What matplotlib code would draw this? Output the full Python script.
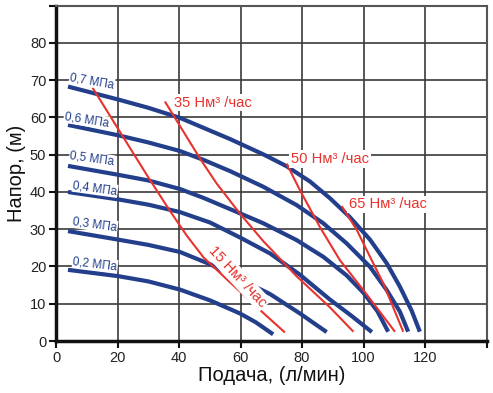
import matplotlib
matplotlib.use("Agg")
import matplotlib.pyplot as plt

plt.rcParams['font.family'] = ['Liberation Sans', 'DejaVu Sans']

# кривые давления (синие): подача (л/мин), напор (м)
p_labels = ["0,7 МПа", "0,6 МПа", "0,5 МПа", "0,4 МПа", "0,3 МПа", "0,2 МПа"]
p_q = [
    [3.9, 20.3, 30, 40.3, 48, 56.6, 67.4, 75, 82.6, 89.1, 95.6, 102.1, 107.5, 111.8, 115.6, 118.3],
    [3.9, 20.3, 30, 40.3, 48, 56.6, 67.4, 78.2, 86.9, 94.5, 102.1, 107.5, 111.8, 114.5],
    [3.9, 20.3, 30, 40.3, 48, 56.6, 67.4, 78.2, 86.9, 94.5, 99.9, 104.5, 108.0],
    [3.9, 20.3, 30, 40.3, 50.1, 59.8, 69.6, 79.3, 89.1, 96, 102.7],
    [3.9, 20.3, 30, 40.3, 50.1, 55.5, 69.6, 79.3, 88],
    [3.9, 20.3, 30, 40.3, 50.1, 59.8, 65, 70.6],
]
p_h = [
    [68.3, 64.8, 62.6, 59.9, 57.2, 54.2, 50.1, 46.9, 42.8, 38.3, 33.2, 27.2, 20.9, 14.6, 8.2, 2.5],
    [58.0, 55.2, 53.3, 51.0, 48.6, 45.6, 41.4, 36.5, 31.6, 26.2, 19.9, 13.7, 7.9, 2.5],
    [47.0, 44.6, 43.1, 40.8, 38.4, 35.4, 31.6, 27.1, 22.6, 17.6, 13.0, 8.0, 2.5],
    [40.0, 38.0, 36.6, 34.6, 31.8, 27.8, 23.5, 17.8, 11.1, 6.8, 2.4],
    [29.5, 27.2, 25.8, 23.9, 20.6, 18.3, 12.6, 7.4, 2.4],
    [19.1, 17.4, 16.0, 13.8, 10.9, 7.4, 5.0, 1.8],
]
# позиции подписей давления
p_lab_q = [11.7, 9.9, 11.7, 12.7, 12.7, 12.7]
p_lab_h = [69.8, 59.4, 48.9, 41.0, 31.3, 20.7]
p_lab_rot = [-10, -9, -8, -8, -8, -7]

# линии расхода воздуха (красные)
a_labels = ["15 Нм³ /час", "35 Нм³ /час", "50 Нм³ /час", "65 Нм³ /час"]
a_q = [
    [11.8, 20.3, 29.5, 36.5, 42.5, 48, 56, 65.3, 74.4],
    [35.4, 39.2, 46.8, 52.2, 59.8, 67.4, 78.2, 89.1, 96.7],
    [75, 79.3, 85.8, 92.3, 99.9, 110.2],
    [92.9, 97.8, 102.1, 106.4, 112.9],
]
a_h = [
    [68.1, 56.8, 44.6, 35.6, 28.3, 22.4, 16.2, 9.1, 2.3],
    [64.3, 59.2, 49.0, 42.3, 34.2, 26.8, 17.4, 9.0, 2.5],
    [47.6, 40.5, 30.6, 21.7, 13.7, 2.5],
    [36.2, 29.8, 22.6, 15.5, 2.5],
]
a_lab_q = [59.0, 51.0, 89.1, 107.9]
a_lab_h = [17.3, 64.0, 48.8, 36.7]
a_lab_rot = [-47, 0, 0, 0]

x_ticks = [0, 20, 40, 60, 80, 100, 120, 140]
y_ticks = [0, 10, 20, 30, 40, 50, 60, 70, 80, 90]

blue = '#233f8c'
red = '#e8322d'

fig = plt.figure(figsize=(4.93, 3.93), dpi=100)
ax = fig.add_axes([0.1136, 0.1323, 0.8734, 0.8532])

# сетка
for v in x_ticks[1:-1]:
    ax.axvline(v, color='#3a3a3a', lw=1.2, zorder=1)
for v in y_ticks[1:-1]:
    ax.axhline(v, color='#3a3a3a', lw=1.2, zorder=1)

for q, h in zip(p_q, p_h):
    ax.plot(q, h, color=blue, lw=3.0, solid_capstyle='butt',
            solid_joinstyle='round', zorder=3)
for q, h in zip(a_q, a_h):
    ax.plot(q, h, color=red, lw=1.5, solid_capstyle='butt',
            solid_joinstyle='round', zorder=4)

for t, x, y, r in zip(p_labels, p_lab_q, p_lab_h, p_lab_rot):
    ax.text(x, y, t, color=blue, fontsize=8.5, rotation=r, ha='center', va='center',
            rotation_mode='anchor', zorder=5,
            bbox=dict(boxstyle='square,pad=0.05', fc='white', ec='none'))
for t, x, y, r in zip(a_labels, a_lab_q, a_lab_h, a_lab_rot):
    ax.text(x, y, t, color=red, fontsize=10.6, rotation=r, ha='center', va='center',
            rotation_mode='anchor', zorder=5,
            bbox=dict(boxstyle='square,pad=0.12', fc='white', ec='none'))

ax.set_xlim(0, 140)
ax.set_ylim(0, 90)
ax.set_xticks(x_ticks)
ax.set_xticklabels([str(v) for v in x_ticks[:-1]] + [''])
ax.set_yticks(y_ticks)
ax.set_yticklabels([str(v) for v in y_ticks[:-1]] + [''])

ax.spines['left'].set_linewidth(2.5)
ax.spines['bottom'].set_linewidth(2.5)
ax.spines['left'].set_color('#111111')
ax.spines['bottom'].set_color('#111111')
for s in ['top', 'right']:
    ax.spines[s].set_linewidth(1.5)
    ax.spines[s].set_color('#555555')
ax.tick_params(axis='both', length=5, width=1.5, color='#111111',
               labelsize=10.5, labelcolor='#222222', pad=2)

ax.set_xlabel("Подача, (л/мин)", fontsize=14.5, labelpad=1, color='#111111')
ax.set_ylabel("Напор, (м)", fontsize=14.5, labelpad=3, color='#111111')

fig.savefig("out.png", dpi=100)
